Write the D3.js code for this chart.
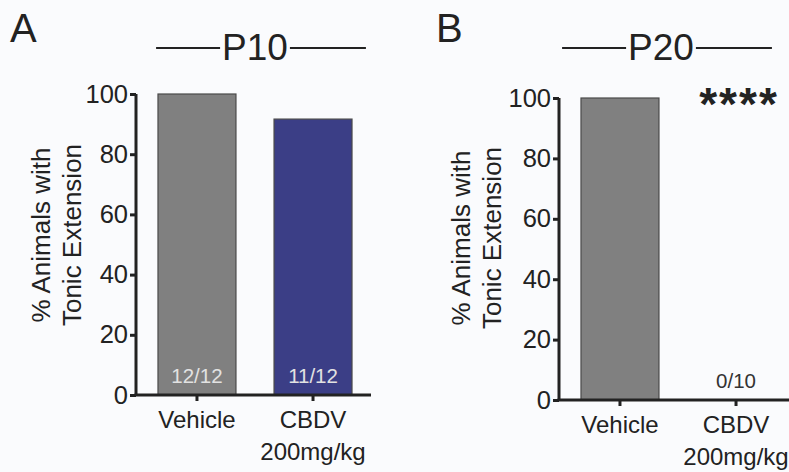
<!DOCTYPE html>
<html>
<head>
<meta charset="utf-8">
<script src="https://cdn.jsdelivr.net/npm/d3@7"></script>
<style>
  body { margin: 0; background: #fafbfd; }
  svg { display: block; font-family: "Liberation Sans", Arial, sans-serif; }
</style>
</head>
<body>
<svg id="chart" width="789" height="472"></svg>
<script>
// data
const groups = ["Vehicle", "CBDV"];
const groupSub = ["", "200mg/kg"];
const p10Values = [100, 91.67];
const p20Values = [100, 0];
const p10Counts = ["12/12", "11/12"];
const p20Counts = ["", "0/10"];
const yTicks = [0, 20, 40, 60, 80, 100];
const barColors = ["#808080", "#3b3e86"];

const svg = d3.select("#chart");
const ink = "#222";

const drawPanel = (cfg) => {
    const g = svg.append("g");

    const x = d3.scaleBand()
        .domain(groups)
        .range([cfg.left, cfg.left + 230])
        .paddingInner(0.328)
        .paddingOuter(0.155);

    const y = d3.scaleLinear()
        .domain([0, 100])
        .range([cfg.bottom, cfg.top]);

    // bars
    g.selectAll("rect.bar")
        .data(cfg.values)
        .join("rect")
        .attr("class", "bar")
        .attr("x", (d, i) => x(groups[i]))
        .attr("y", d => y(d))
        .attr("width", x.bandwidth())
        .attr("height", d => y(0) - y(d))
        .attr("fill", (d, i) => barColors[i])
        .attr("stroke", d => d > 0 ? "#4a4a4a" : "none")
        .attr("stroke-width", 1.2);

    // counts inside bars
    g.selectAll("text.count")
        .data(cfg.counts)
        .join("text")
        .attr("class", "count")
        .attr("x", (d, i) => x(groups[i]) + x.bandwidth() / 2)
        .attr("y", cfg.bottom - 12)
        .attr("text-anchor", "middle")
        .attr("font-size", 20.5)
        .attr("fill", (d, i) => cfg.values[i] > 10 ? "#e2e2e2" : "#333")
        .text(d => d);

    // y axis
    const yAxis = d3.axisLeft(y).tickValues(yTicks).tickSize(6).tickPadding(2);
    const ya = g.append("g")
        .attr("transform", `translate(${cfg.axisX},0)`)
        .call(yAxis);
    ya.select(".domain").attr("stroke", ink).attr("stroke-width", 3)
        .attr("d", `M0,${cfg.top}V${cfg.bottom}`);
    ya.selectAll(".tick line").attr("stroke", ink).attr("stroke-width", 3);
    ya.selectAll(".tick text").attr("font-size", 25.5).attr("fill", ink)
        .attr("font-family", "Liberation Sans, Arial, sans-serif");

    // x axis
    const xAxis = d3.axisBottom(x).tickSize(6).tickFormat("");
    const xa = g.append("g")
        .attr("transform", `translate(0,${cfg.bottom})`)
        .call(xAxis);
    xa.select(".domain").attr("stroke", ink).attr("stroke-width", 3)
        .attr("d", `M${cfg.axisX - 1.5},0H${cfg.xEnd}`);
    xa.selectAll(".tick line").attr("stroke", ink).attr("stroke-width", 3);

    // category labels
    groups.forEach((name, i) => {
        const cx = x(name) + x.bandwidth() / 2;
        g.append("text")
            .attr("x", cx).attr("y", cfg.bottom + 33)
            .attr("text-anchor", "middle").attr("font-size", 24).attr("fill", ink)
            .text(name);
        if (groupSub[i]) {
            g.append("text")
                .attr("x", cx).attr("y", cfg.bottom + 65)
                .attr("text-anchor", "middle").attr("font-size", 24).attr("fill", ink)
                .text(groupSub[i]);
        }
    });

    // y label, two lines
    const yl = g.append("text")
        .attr("transform", `translate(${cfg.labelX},${cfg.labelY}) rotate(-90)`)
        .attr("text-anchor", "middle").attr("font-size", 26).attr("fill", ink);
    yl.append("tspan").attr("x", 0).attr("y", 0).text("% Animals with");
    yl.append("tspan").attr("x", 0).attr("y", 31).text("Tonic Extension");

    // panel letter
    g.append("text")
        .attr("x", cfg.letterX).attr("y", 42)
        .attr("font-size", 40).attr("fill", ink)
        .text(cfg.letter);

    // age title with rules
    const title = g.append("text")
        .attr("x", cfg.titleX).attr("y", 60)
        .attr("text-anchor", "middle").attr("font-size", 37).attr("fill", ink)
        .text(cfg.title);
    const tw = title.node().getComputedTextLength();
    g.append("line")
        .attr("x1", cfg.titleX - tw / 2 - 66).attr("x2", cfg.titleX - tw / 2 - 2)
        .attr("y1", 48).attr("y2", 48)
        .attr("stroke", ink).attr("stroke-width", 2);
    g.append("line")
        .attr("x1", cfg.titleX + tw / 2 + 2).attr("x2", cfg.titleX + tw / 2 + 78)
        .attr("y1", 48).attr("y2", 48)
        .attr("stroke", ink).attr("stroke-width", 2);

    if (cfg.stars) {
        g.append("text")
            .attr("x", x(groups[1]) + x.bandwidth() / 2 + 3).attr("y", 120)
            .attr("text-anchor", "middle").attr("font-size", 46)
            .attr("font-weight", "bold").attr("letter-spacing", 2).attr("fill", ink)
            .text(cfg.stars);
    }
};

drawPanel({
    left: 140, axisX: 136, top: 94, bottom: 395, xEnd: 371,
    values: p10Values, counts: p10Counts,
    labelX: 50, labelY: 235, letter: "A", letterX: 10,
    title: "P10", titleX: 255
});

drawPanel({
    left: 563, axisX: 559, top: 98, bottom: 400, xEnd: 789,
    values: p20Values, counts: p20Counts,
    labelX: 470, labelY: 238, letter: "B", letterX: 436,
    title: "P20", titleX: 661, stars: "****"
});
</script>
</body>
</html>
